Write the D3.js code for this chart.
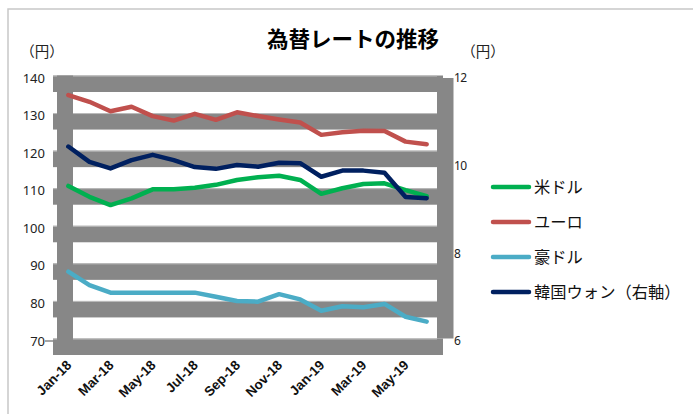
<!DOCTYPE html>
<html><head><meta charset="utf-8">
<script src="https://cdn.jsdelivr.net/npm/d3@7"></script>
<style>body{margin:0;background:#fff}svg{display:block}</style>
</head><body>
<svg id="c" width="693" height="414"></svg>
<script>
const months = ["Jan-18","Feb-18","Mar-18","Apr-18","May-18","Jun-18","Jul-18","Aug-18","Sep-18","Oct-18","Nov-18","Dec-18","Jan-19","Feb-19","Mar-19","Apr-19","May-19","Jun-19"];
const tickLabels = ["Jan-18","Mar-18","May-18","Jul-18","Sep-18","Nov-18","Jan-19","Mar-19","May-19"];
const usd = [110.6,107.7,105.5,107.3,109.7,109.7,110.1,110.9,112.2,112.9,113.3,112.2,108.5,110.0,111.1,111.3,109.5,107.9];
const eur = [134.8,133.0,130.5,131.7,129.2,128.0,129.8,128.2,130.2,129.2,128.3,127.5,124.2,124.9,125.3,125.2,122.4,121.7];
const aud = [87.8,84.2,82.2,82.2,82.2,82.2,82.2,81.1,80.0,79.8,81.8,80.4,77.4,78.6,78.3,79.2,75.8,74.5];
const krw = [10.38,10.03,9.88,10.07,10.19,10.07,9.91,9.87,9.96,9.92,10.01,10.0,9.69,9.83,9.83,9.78,9.23,9.20];
const leftTicks = [70,80,90,100,110,120,130,140];
const rightTicks = [6,8,10,12];
const seriesNames = ["米ドル","ユーロ","豪ドル","韓国ウォン（右軸）"];
const seriesColors = ["#00B050","#C0504D","#4BACC6","#002060"];
const title = "為替レートの推移";
const unitLabel = "（円）";

const svg = d3.select("#c");
const F = "'Noto Sans CJK JP','Noto Sans',sans-serif";
const gray = "#878787";

// chart border
svg.append("rect").attr("x",8).attr("y",9).attr("width",700).attr("height",420)
  .attr("fill","none").attr("stroke","#c8c8c8").attr("stroke-width",1.5);

const x = d3.scaleBand().domain(months).range([57.8,437.2]).padding(0);
const cx = d => x(d) + x.bandwidth()/2;
const yL = d3.scaleLinear().domain([70,140]).range([338.5,75.5]);
const yR = d3.scaleLinear().domain([6,12]).range([338.5,75.5]);

// horizontal bands (gridlines with shadow)
const g = svg.append("g");
g.selectAll("rect.band").data(leftTicks).join("rect")
  .attr("x",53).attr("y",d=>yL(d)).attr("width",390).attr("height",16.5).attr("fill",gray);
g.selectAll("line.grid").data(leftTicks).join("line")
  .attr("x1",53).attr("x2",437).attr("y1",d=>yL(d)+0.5).attr("y2",d=>yL(d)+0.5)
  .attr("stroke","#bdbdbd").attr("stroke-width",1);
// vertical axis bands
g.append("rect").attr("x",57).attr("y",yL(140)).attr("width",16).attr("height",yL(70)-yL(140)+16.5).attr("fill",gray);
g.append("rect").attr("x",437).attr("y",yR(12)+2.5).attr("width",16.5).attr("height",yR(6)-yR(12)-2.5).attr("fill",gray);
// tick at 70
g.append("line").attr("x1",45).attr("x2",53).attr("y1",yL(70)+2.5).attr("y2",yL(70)+2.5).attr("stroke",gray).attr("stroke-width",1.5);

// left tick labels
svg.append("g").selectAll("text").data(leftTicks).join("text")
  .attr("x",45).attr("y",d=>yL(d)+2.5).attr("dy","0.35em").attr("text-anchor","end")
  .attr("font-family","'Noto Sans',sans-serif").attr("font-size",13).attr("fill","#222").text(d=>d);
// right tick labels
svg.append("g").selectAll("text").data(rightTicks).join("text")
  .attr("x",454).attr("y",d=>yR(d)+2.5).attr("dy","0.35em").attr("text-anchor","start")
  .attr("font-family","'Noto Sans',sans-serif").attr("font-size",12).attr("letter-spacing",-0.5).attr("fill","#222").text(d=>d);

// x labels
svg.append("g").selectAll("text").data(tickLabels).join("text")
  .attr("transform",d=>`translate(${cx(d)+4},${366}) rotate(-45)`)
  .attr("text-anchor","end").attr("font-family","'Liberation Sans',Arial,sans-serif")
  .attr("font-weight","bold").attr("font-size",13.5).attr("fill","#111").text(d=>d);

// lines
const data = [usd,eur,aud,krw];
const scales = [yL,yL,yL,yR];
data.forEach((s,i)=>{
  const line = d3.line().x((d,j)=>cx(months[j])).y(d=>scales[i](d));
  svg.append("path").attr("d",line(s)).attr("fill","none").attr("stroke",seriesColors[i])
    .attr("stroke-width",4.5).attr("stroke-linejoin","round").attr("stroke-linecap","round");
});

// title
svg.append("text").attr("x",353).attr("y",47).attr("text-anchor","middle")
  .attr("font-family",F).attr("font-weight","bold").attr("font-size",21.5).attr("fill","#000").text(title);
// unit labels
svg.append("text").attr("x",42).attr("y",57).attr("text-anchor","middle")
  .attr("font-family",F).attr("font-size",14.5).attr("fill","#222").text(unitLabel);
svg.append("text").attr("x",483).attr("y",57).attr("text-anchor","middle")
  .attr("font-family",F).attr("font-size",14.5).attr("fill","#222").text(unitLabel);

// legend
const leg = svg.append("g");
const legY = [187,222,257,292];
seriesNames.forEach((n,i)=>{
  leg.append("line").attr("x1",493).attr("x2",529).attr("y1",legY[i]).attr("y2",legY[i])
    .attr("stroke",seriesColors[i]).attr("stroke-width",4.5).attr("stroke-linecap","round");
  leg.append("text").attr("x",534).attr("y",legY[i]).attr("dy","0.36em")
    .attr("font-family",F).attr("font-size",16.3).attr("fill","#111").text(n);
});
</script>
</body></html>
